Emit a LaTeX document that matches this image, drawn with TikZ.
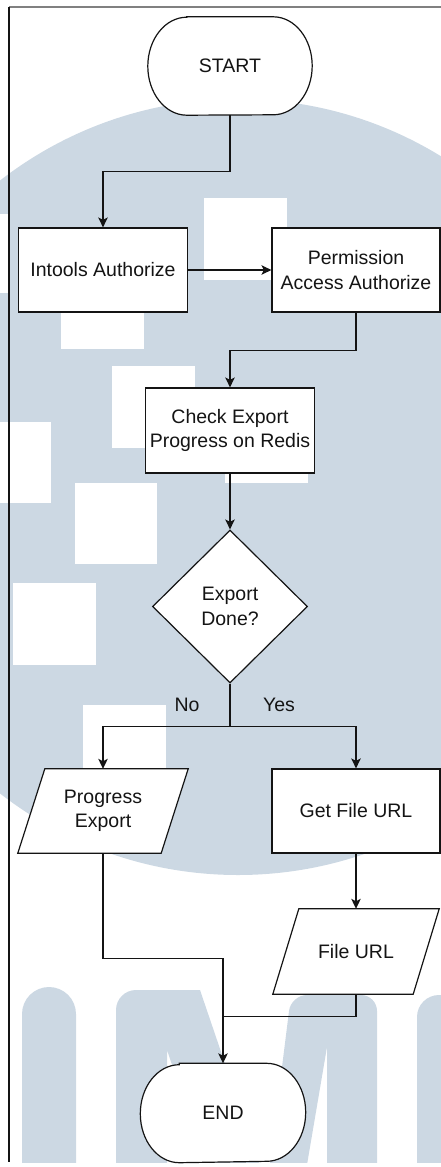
\documentclass[tikz,border=0pt]{standalone}
\usepackage{fontspec}
\setmainfont{Liberation Sans}
\usetikzlibrary{arrows.meta,calc,shapes.geometric}
\pgfdeclarelayer{wm}
\pgfdeclarelayer{bg}
\pgfsetlayers{wm,bg,main}
\definecolor{wmblue}{RGB}{204,216,227}
\definecolor{framegray}{RGB}{128,128,128}
\definecolor{ink}{RGB}{20,20,20}

% outline of a terminal (start/end) node, elliptic ends
\newcommand\terminaloutline[1]{%
  \begin{pgfonlayer}{bg}
    \filldraw[fill=white, draw=ink, line width=1.2pt]
      ($(#1.north west)+(39,0)$) -- ($(#1.north east)+(-39,0)$)
      arc[start angle=-90, end angle=90, x radius=39, y radius=49]
      -- ($(#1.south west)+(39,0)$)
      arc[start angle=90, end angle=270, x radius=39, y radius=49]
      -- cycle;
  \end{pgfonlayer}}
% outline of a data (parallelogram) node
\newcommand\dataoutline[2]{%
  \begin{pgfonlayer}{bg}
    \filldraw[fill=white, draw=ink, line width=1.2pt]
      (#1.south west) -- ($(#1.north west)+(#2,0)$) -- (#1.north east)
      -- ($(#1.south east)+(-#2,0)$) -- cycle;
  \end{pgfonlayer}}

\begin{document}
\begin{tikzpicture}[x=1pt, y=-1pt,
  font=\fontsize{19.5}{24.5}\selectfont,
  every node/.style={text=ink},
  procbox/.style={draw=ink, fill=white, line width=1.2pt, inner sep=0pt,
    align=center, minimum width=169pt, minimum height=84pt},
  termbox/.style={inner sep=0pt, align=center,
    minimum width=164pt, minimum height=98pt},
  databox/.style={inner sep=0pt, align=center,
    minimum width=#1, minimum height=85pt},
  decbox/.style={draw=ink, fill=white, line width=1.2pt, shape=diamond,
    inner sep=0pt, align=center, minimum width=155pt, minimum height=153pt},
  wire/.style={draw=ink, line width=1.2pt},
  arr/.style={wire, -{Stealth[length=10pt, width=9.5pt, inset=2.5pt]}},
  lbl/.style={inner sep=0pt}]

\useasboundingbox (0,0) rectangle (441,1167);

% ---------- background emblem ----------
\begin{pgfonlayer}{wm}
  \begin{scope}
    \clip (0,0) rectangle (441,1162);
    \fill[wmblue] (238,487) circle[radius=388];
    % white tiles
    \fill[white] (204,198) rectangle (287,280);
    \fill[white] (61,266) rectangle (144,349);
    \fill[white] (112,366) rectangle (195,448);
    \fill[white] (225,400) rectangle (308,483);
    \fill[white] (-32,422) rectangle (51,503);
    \fill[white] (75,483) rectangle (157,564);
    \fill[white] (13,583) rectangle (96,665);
    \fill[white] (83,705) rectangle (166,787);
    \fill[white] (-74,214) rectangle (9,293);
    % lettering
    \fill[wmblue, rounded corners=27pt] (22,1200) -- (22,987) -- (76,987) -- (76,1200) -- cycle;
    \fill[wmblue] (116,1200) [rounded corners=20pt] -- (116,990) [sharp corners] -- (200,990)
      -- (267,1187) [rounded corners=16pt] -- (291,995) -- (377,995) [sharp corners]
      -- (377,1200) -- (327,1200) -- (327,1047) -- (301,1200) -- (218,1200)
      -- (167,1050) -- (167,1200) -- cycle;
    \fill[wmblue, rounded corners=22pt] (417,1200) -- (417,995) -- (472,995) -- (472,1200) -- cycle;
  \end{scope}
\end{pgfonlayer}

% ---------- frame ----------
\draw[framegray, line width=1.5pt] (9,7) -- (441,7);
\draw[ink, line width=1.1pt] (9,7) -- (9,1162);

% ---------- nodes ----------
\node[termbox] (start) at (230,66) {START};
\terminaloutline{start}
\node[procbox] (intools) at (103,270) {Intools Authorize};
\node[procbox, minimum width=168pt] (perm) at (356,270) {Permission\\Access Authorize};
\node[procbox, minimum height=85pt] (check) at (230,430.5) {Check Export\\Progress on Redis};
\node[decbox] (dec) at (230,606.5) {Export\\Done?};
\node[databox=170pt, minimum height=84pt] (pe) at (103,811) {Progress\\Export};
\dataoutline{pe}{27}
\node[procbox, minimum width=168pt] (gf) at (356,811) {Get File URL};
\node[databox=166pt] (fu) at (356,951.5) {File URL};
\dataoutline{fu}{26}
\node[termbox, minimum width=165pt, minimum height=99pt] (end) at (223,1113) {END};
\terminaloutline{end}

\node[lbl] (lblno) at (187,705) {No};
\node[lbl] (lblyes) at (279,705) {Yes};

% ---------- connectors ----------
\draw[arr] (start.south) -- ++(0,56) -| (intools.north);
\draw[arr] (intools.east) -- (perm.west);
\draw[arr] (perm.south) -- ++(0,38) -| (check.north);
\draw[arr] (check.south) -- (dec.north);
\draw[arr] (dec.south) -- ++(0,43) -| (pe.north);
\draw[arr] (dec.south) -- ++(0,43) -| (gf.north);
\draw[arr] (gf.south) -- (gf.south |- fu.north);
\draw[arr] (pe.south) -- ++(0,105) -| (end.north);
\path (fu.south) ++(0,22) coordinate (fujoin);
\draw[wire] (fu.south) -- (fujoin) -- (fujoin -| end.north);

\end{tikzpicture}
\end{document}
